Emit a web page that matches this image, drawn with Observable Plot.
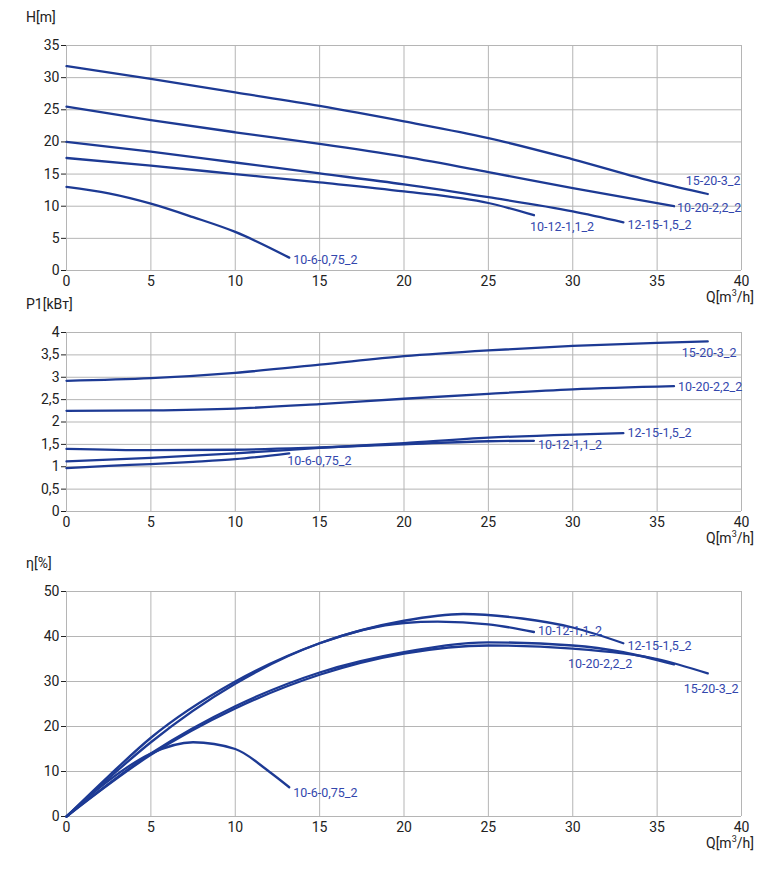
<!DOCTYPE html>
<html><head><meta charset="utf-8">
<script src="https://cdn.jsdelivr.net/npm/d3@7"></script>
<script src="https://cdn.jsdelivr.net/npm/@observablehq/plot@0.6"></script>
<style>
body{margin:0;background:#fff;font-family:Roboto,sans-serif}
#wrap{position:relative;width:780px;height:881px}
#wrap svg{position:absolute;left:0}
.lab{position:absolute;font:14px Roboto,sans-serif;color:#222}
</style></head><body><div id="wrap"></div>
<script>
const names = ["15-20-3_2","10-20-2,2_2","12-15-1,5_2","10-12-1,1_2","10-6-0,75_2"];
const headQ = [
  [0,5,10,15,20,25,30,35,38],
  [0,5,10,15,20,25,30,36],
  [0,5,10,15,20,25,30,33],
  [0,5,10,15,20,25,27.7],
  [0,2.5,5,7.5,10,13.2]];
const headH = [
  [31.8,29.8,27.7,25.6,23.2,20.6,17.3,13.7,11.9],
  [25.5,23.4,21.5,19.7,17.7,15.3,12.8,10.0],
  [20,18.5,16.8,15.1,13.4,11.4,9.2,7.5],
  [17.5,16.3,15,13.7,12.3,10.5,8.6],
  [13,12,10.4,8.3,6,2]];
const powerQ = headQ;
const powerP = [
  [2.92,2.98,3.1,3.28,3.47,3.6,3.7,3.77,3.8],
  [2.25,2.26,2.3,2.4,2.52,2.63,2.73,2.8],
  [1.12,1.2,1.3,1.42,1.53,1.65,1.72,1.75],
  [1.4,1.37,1.38,1.43,1.5,1.57,1.58],
  [0.97,1.02,1.06,1.11,1.17,1.3]];
const effQ = [
  [0,5,10,15,20,25,30,35,38],
  [0,5,10,15,20,25,30,33,36],
  [0,2.5,5,10,15,20,23.5,27,30,33],
  [0,2.5,5,10,15,20,22,25,27.7],
  [0,2.5,5,7.5,10,12,13.2]];
const effE = [
  [0,13.7,24,31.5,36.2,38,37.3,35,31.8],
  [0,14,24.5,32,36.5,38.7,38,36.5,33.8],
  [0,9,17.5,30,38.5,43.5,45,44,42,38.5],
  [0,8.5,16.5,29.5,38.5,43,43.3,42.7,41],
  [0,8,14,16.5,15,10,6.5]];
const headTicks = [0,5,10,15,20,25,30,35];
const powerTicks = [0,0.5,1,1.5,2,2.5,3,3.5,4];
const powerTickLabels = ["0","0,5","1","1,5","2","2,5","3","3,5","4"];
const effTicks = [0,10,20,30,40,50];
const qTicks = [0,5,10,15,20,25,30,35,40];

const lineColor = "#1d3a94", labColor = "#3347ad";
const wrap = document.getElementById("wrap");

function toRows(X, Y){ const r=[]; X.forEach((xs,i)=>xs.forEach((x,j)=>r.push({s:names[i],x,y:Y[i][j]}))); return r; }

function panel({top, plotTop, plotBottom, yMax, yTicks, yFmt, X, Y, labelOff, yLabel}){
  const rows = toRows(X,Y);
  const ends = names.map((n,i)=>({s:n,x:X[i][X[i].length-1],y:Y[i][Y[i].length-1],dx:labelOff[i][0],dy:labelOff[i][1]}));
  const marginTop = plotTop - top, height = plotBottom - top + 36;
  const p = Plot.plot({
    width:780, height, marginTop, marginBottom:36, marginLeft:66, marginRight:39,
    style:{fontFamily:"Roboto,sans-serif", fontSize:"14px", color:"#222", background:"transparent"},
    x:{domain:[0,40], ticks:qTicks, label:null, tickSize:0, tickPadding:6},
    y:{domain:[0,yMax], ticks:yTicks, tickFormat:yFmt, label:null, tickSize:5, tickPadding:2},
    marks:[
      Plot.gridX(qTicks,{stroke:"#b5b5b5", strokeOpacity:1}),
      Plot.gridY(yTicks,{stroke:"#b5b5b5", strokeOpacity:1}),
      Plot.line(rows,{x:"x",y:"y",z:"s",stroke:lineColor,strokeWidth:2.3,curve:"monotone-x"}),
      ...ends.map(e=>Plot.text([e],{x:"x",y:"y",text:"s",dx:e.dx,dy:e.dy,textAnchor:"start",fill:labColor,fontSize:12.5}))
    ]
  });
  p.style.top = top+"px";
  wrap.appendChild(p);
  const yl=document.createElement("div"); yl.className="lab"; yl.textContent=yLabel;
  yl.style.left="26px"; yl.style.top=(plotTop-36)+"px"; wrap.appendChild(yl);
  const ql=document.createElement("div"); ql.className="lab"; ql.innerHTML="Q[m<sup style='font-size:9px'>3</sup>/h]";
  ql.style.left="706px"; ql.style.top=(plotBottom+18)+"px"; wrap.appendChild(ql);
}

panel({top:0, plotTop:45, plotBottom:270, yMax:35, yTicks:headTicks, yFmt:d=>d, X:headQ, Y:headH, yLabel:"H[m]",
  labelOff:[[-22,-13],[3,2],[4,3],[-4,12],[4,2]]});
panel({top:300, plotTop:332, plotBottom:511, yMax:4, yTicks:powerTicks, yFmt:(d,i)=>powerTickLabels[i], X:powerQ, Y:powerP, yLabel:"P1[kВт]",
  labelOff:[[-26,12],[4,1],[4,0],[4,4],[-2,8]]});
panel({top:545, plotTop:591, plotBottom:816, yMax:50, yTicks:effTicks, yFmt:d=>d, X:effQ, Y:effE, yLabel:"η[%]",
  labelOff:[[-24,16],[-106,0],[4,3],[4,-1],[4,6]]});
</script></body></html>
